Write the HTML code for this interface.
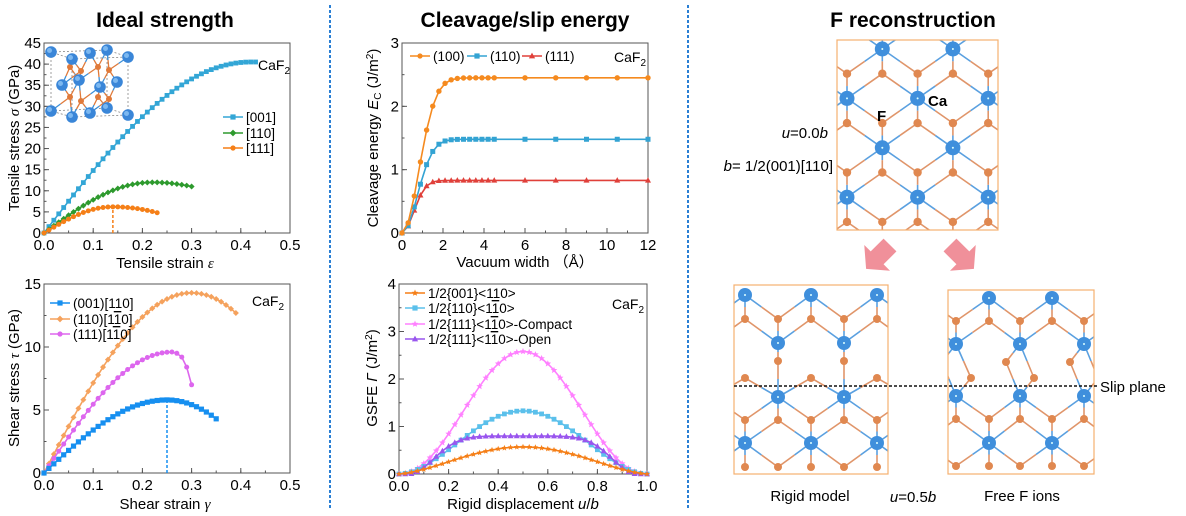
<!DOCTYPE html>
<html><head><meta charset="utf-8"><style>
html,body{margin:0;padding:0;background:#fff;}
svg{display:block;font-family:"Liberation Sans",Arial,sans-serif;}
</style></head><body>
<svg id="s" width="1186" height="516" viewBox="0 0 1186 516" xmlns="http://www.w3.org/2000/svg">
<rect width="1186" height="516" fill="#fff"/>
<line x1="330" y1="5" x2="330" y2="510" stroke="#2a7fd4" stroke-width="2" stroke-dasharray="3,2"/>
<line x1="688" y1="5" x2="688" y2="510" stroke="#2a7fd4" stroke-width="2" stroke-dasharray="3,2"/>
<text x="165" y="27" font-size="21" font-weight="bold" text-anchor="middle">Ideal strength</text>
<text x="525" y="27" font-size="21" font-weight="bold" text-anchor="middle">Cleavage/slip energy</text>
<text x="913" y="27" font-size="21" font-weight="bold" text-anchor="middle">F reconstruction</text>
<g id="g"></g>
</svg>
<script>
var G=document.getElementById('g'),H='';
function t(x,y,s,o){o=o||{};H+='<text x="'+x+'" y="'+y+'" font-size="'+(o.fs||14)+'"'+(o.a?' text-anchor="'+o.a+'"':'')+(o.tr?' transform="'+o.tr+'"':'')+(o.b?' font-weight="bold"':'')+'>'+s+'</text>';}
function mk(tp,x,y,c,r){r=r||2.6;
 if(tp=='s')H+='<rect x="'+(x-r)+'" y="'+(y-r)+'" width="'+2*r+'" height="'+2*r+'" fill="'+c+'"/>';
 else if(tp=='c')H+='<circle cx="'+x+'" cy="'+y+'" r="'+r+'" fill="'+c+'"/>';
 else if(tp=='d')H+='<polygon points="'+x+','+(y-r*1.3)+' '+(x+r*1.3)+','+y+' '+x+','+(y+r*1.3)+' '+(x-r*1.3)+','+y+'" fill="'+c+'"/>';
 else if(tp=='t')H+='<polygon points="'+x+','+(y-r*1.3)+' '+(x+r*1.2)+','+(y+r*0.9)+' '+(x-r*1.2)+','+(y+r*0.9)+'" fill="'+c+'"/>';
 else if(tp=='st'){var p=[];for(var i=0;i<10;i++){var a=-Math.PI/2+i*Math.PI/5,rr=i%2?r*0.6:r*1.35;p.push((x+rr*Math.cos(a)).toFixed(1)+','+(y+rr*Math.sin(a)).toFixed(1));}H+='<polygon points="'+p.join(' ')+'" fill="'+c+'"/>';}
}
function Ax(o){
 o.X=function(v){return o.x0+(v-o.xmin)/(o.xmax-o.xmin)*(o.x1-o.x0)};
 o.Y=function(v){return o.yb-(v-o.ymin)/(o.ymax-o.ymin)*(o.yb-o.yt)};
 H+='<rect x="'+o.x0+'" y="'+o.yt+'" width="'+(o.x1-o.x0)+'" height="'+(o.yb-o.yt)+'" fill="none" stroke="#555" stroke-width="1"/>';
 for(var v=o.xmin;v<=o.xmax+1e-9;v+=o.xm){var x=o.X(v);H+='<line x1="'+x+'" y1="'+o.yb+'" x2="'+x+'" y2="'+(o.yb-2.5)+'" stroke="#555"/>';}
 for(var v=o.ymin;v<=o.ymax+1e-9;v+=o.ym){var y=o.Y(v);H+='<line x1="'+o.x0+'" y1="'+y+'" x2="'+(o.x0+2.5)+'" y2="'+y+'" stroke="#555"/>';}
 o.xt.forEach(function(v){var x=o.X(v);H+='<line x1="'+x+'" y1="'+o.yb+'" x2="'+x+'" y2="'+(o.yb-5)+'" stroke="#555"/>';t(x,o.yb+17,o.xf?o.xf(v):v,{a:'middle',fs:15});});
 o.yt2.forEach(function(v){var y=o.Y(v);H+='<line x1="'+o.x0+'" y1="'+y+'" x2="'+(o.x0+5)+'" y2="'+y+'" stroke="#555"/>';t(o.x0-3,y+5,v,{a:'end',fs:15});});
 return o;}
function ser(o,pts,c,tp,r){H+='<polyline fill="none" stroke="'+c+'" stroke-width="1.6" points="'+pts.map(function(p){return o.X(p[0]).toFixed(1)+','+o.Y(p[1]).toFixed(1)}).join(' ')+'"/>';pts.forEach(function(p){mk(tp,o.X(p[0]),o.Y(p[1]),c,r)});}
function leg(x,y,c,tp,s){H+='<line x1="'+x+'" y1="'+(y-5)+'" x2="'+(x+20)+'" y2="'+(y-5)+'" stroke="'+c+'" stroke-width="1.6"/>';mk(tp,x+10,y-5,c);t(x+23,y,s,{fs:13.5});}
function rng(a,b,s){var r=[];for(var v=a;v<=b+1e-9;v+=s)r.push(+v.toFixed(4));return r;}
var S=Math.sin,P=Math.PI;
// Panel 1
var a1=Ax({x0:44,x1:290,yt:43,yb:233,xmin:0,xmax:0.5,ymin:0,ymax:45,xm:0.05,ym:2.5,xt:[0,0.1,0.2,0.3,0.4,0.5],yt2:[0,5,10,15,20,25,30,35,40,45],xf:function(v){return v.toFixed(1)}});
H+='<line x1="'+a1.X(0.14)+'" y1="233" x2="'+a1.X(0.14)+'" y2="'+a1.Y(6.1)+'" stroke="#f57f17" stroke-width="1.5" stroke-dasharray="3,2"/>';
ser(a1,rng(0,0.43,0.01).map(function(e){return[e,40.5*S(P/2*Math.min(e/0.42,1))]}),'#33a6d6','s',2.4);
ser(a1,rng(0,0.30,0.01).map(function(e){return[e,e<=0.22?12*S(P/2*e/0.22):12-156*(e-0.22)*(e-0.22)]}),'#2e9a2e','d',2.3);
ser(a1,rng(0,0.23,0.01).map(function(e){return[e,e<=0.14?6.2*S(P/2*e/0.14):6.2-173*(e-0.14)*(e-0.14)]}),'#f57f17','c',2.5);
leg(223,122,'#33a6d6','s','[001]');leg(223,138,'#2e9a2e','d','[110]');leg(223,153,'#f57f17','c','[111]');
t(258,70,'CaF<tspan font-size="10" dy="4">2</tspan>',{fs:14});
t(165,268,'Tensile strain <tspan font-style="italic" font-family="Liberation Serif">ε</tspan>',{a:'middle',fs:15});
t(19,138,'Tensile stress <tspan font-style="italic" font-family="Liberation Serif">σ</tspan> (GPa)',{a:'middle',fs:15,tr:'rotate(-90 19 138)'});
// inset crystal
(function(){var ca=[[51,52],[72,59],[90,53],[107,50],[128,57],[62,85],[79,80],[100,87],[117,82],[51,111],[72,117],[90,113],[107,108],[128,115]],f=[[70,67],[81,71],[98,67],[109,70],[70,97],[81,101],[98,97],[109,99]];
H+='<polygon points="51,52 107,50 128,57 72,59" fill="none" stroke="#888" stroke-dasharray="2,2" stroke-width="0.8"/><polygon points="51,111 107,108 128,115 72,117" fill="none" stroke="#888" stroke-dasharray="2,2" stroke-width="0.8"/>';
[[51,52,51,111],[72,59,72,117],[107,50,107,108],[128,57,128,115]].forEach(function(l){H+='<line x1="'+l[0]+'" y1="'+l[1]+'" x2="'+l[2]+'" y2="'+l[3]+'" stroke="#888" stroke-dasharray="2,2" stroke-width="0.8"/>';});
f.forEach(function(q){ca.forEach(function(c){var d=Math.hypot(q[0]-c[0],q[1]-c[1]);if(d<24){var mx=(q[0]+c[0])/2,my=(q[1]+c[1])/2;H+='<line x1="'+c[0]+'" y1="'+c[1]+'" x2="'+mx+'" y2="'+my+'" stroke="#3b8fd8" stroke-width="1.3"/><line x1="'+mx+'" y1="'+my+'" x2="'+q[0]+'" y2="'+q[1]+'" stroke="#e07a3a" stroke-width="1.3"/>';}});});
f.forEach(function(q){H+='<circle cx="'+q[0]+'" cy="'+q[1]+'" r="3" fill="#e07a3a"/>';});
ca.forEach(function(c){H+='<circle cx="'+c[0]+'" cy="'+c[1]+'" r="5.8" fill="#3a86d8"/><circle cx="'+(c[0]-1.5)+'" cy="'+(c[1]-1.5)+'" r="2.5" fill="#7cb8f0"/>';});})();
// Panel 2
var a2=Ax({x0:44,x1:290,yt:284,yb:473,xmin:0,xmax:0.5,ymin:0,ymax:15,xm:0.05,ym:2.5,xt:[0,0.1,0.2,0.3,0.4,0.5],yt2:[0,5,10,15],xf:function(v){return v.toFixed(1)}});
H+='<line x1="'+a2.X(0.25)+'" y1="473" x2="'+a2.X(0.25)+'" y2="'+a2.Y(5.8)+'" stroke="#168ff0" stroke-width="1.5" stroke-dasharray="3,2"/>';
ser(a2,rng(0,0.39,0.01).map(function(g){return[g,g<=0.3?14.3*S(P/2*g/0.3):14.3-1.6*Math.pow((g-0.3)/0.09,2)]}),'#f5a25d','d',2.3);
var mg=rng(0,0.26,0.01).map(function(g){return[g,9.6*S(P/2*g/0.26)]});mg.push([0.27,9.5],[0.28,9.2],[0.29,8.4],[0.30,7.0]);
ser(a2,mg,'#dd66ee','c',2.5);
ser(a2,rng(0,0.35,0.01).map(function(g){return[g,g<=0.25?5.8*S(P/2*g/0.25):5.8-1.5*Math.pow((g-0.25)/0.1,2)]}),'#168ff0','s',2.6);
leg(50,308,'#168ff0','s','(001)[110]');leg(50,324,'#f5a25d','d','(110)[1<tspan text-decoration="overline">1</tspan>0]');leg(50,339,'#dd66ee','c','(111)[1<tspan text-decoration="overline">1</tspan>0]');
t(252,306,'CaF<tspan font-size="10" dy="4">2</tspan>',{fs:14});
t(165,509,'Shear strain <tspan font-style="italic" font-family="Liberation Serif">γ</tspan>',{a:'middle',fs:15});
t(19,378,'Shear stress <tspan font-style="italic" font-family="Liberation Serif">τ</tspan> (GPa)',{a:'middle',fs:15,tr:'rotate(-90 19 378)'});
// Panel 3
var a3=Ax({x0:402,x1:648,yt:43,yb:233,xmin:0,xmax:12,ymin:0,ymax:3,xm:1,ym:0.5,xt:[0,2,4,6,8,10,12],yt2:[0,1,2,3]});
var vx=rng(0,4.5,0.3).concat([6,7.5,9,10.5,12]);
function cl(A,w){return vx.map(function(x){return[x,A*(1-Math.exp(-Math.pow(x/w,2)))]})}
ser(a3,cl(0.83,0.8),'#e0403a','t',2.5);
ser(a3,cl(1.48,1.05),'#33a3d3','s',2.5);
ser(a3,cl(2.45,1.15),'#f58a1f','c',2.7);
leg(410,61,'#f58a1f','c','(100)');leg(467,61,'#33a3d3','s','(110)');leg(522,61,'#e0403a','t','(111)');
t(614,62,'CaF<tspan font-size="10" dy="4">2</tspan>',{fs:14});
t(525,267,'Vacuum width （Å）',{a:'middle',fs:15});
t(378,138,'Cleavage energy <tspan font-style="italic">E</tspan><tspan font-size="10" dy="3">C</tspan><tspan dy="-3"> (J/m</tspan><tspan font-size="10" dy="-5">2</tspan><tspan dy="5">)</tspan>',{a:'middle',fs:15,tr:'rotate(-90 378 138)'});
// Panel 4
var a4=Ax({x0:399,x1:647,yt:284,yb:474,xmin:0,xmax:1,ymin:0,ymax:4,xm:0.1,ym:0.5,xt:[0,0.2,0.4,0.6,0.8,1.0],yt2:[0,1,2,3,4],xf:function(v){return v.toFixed(1)}});
var ux=rng(0,1,0.025);
ser(a4,ux.map(function(u){return[u,2.58*Math.pow(S(P*u),2.1)]}),'#ff80ff','st',2.6);
ser(a4,ux.map(function(u){return[u,1.33*Math.pow(S(P*u),1.8)]}),'#5bc0eb','s',2.4);
ser(a4,ux.map(function(u){var d=Math.max(0,Math.min(u,1-u)-0.04);return[u,0.8*(1-Math.exp(-Math.pow(d/0.14,2)))]}),'#9955ee','t',2.5);
ser(a4,ux.map(function(u){return[u,0.57*Math.pow(S(P*u),1.5)]}),'#f57f17','st',2.3);
leg(405,298,'#f57f17','st','1/2{001}&lt;110&gt;');leg(405,313,'#5bc0eb','s','1/2{110}&lt;1<tspan text-decoration="overline">1</tspan>0&gt;');leg(405,329,'#ff80ff','st','1/2{111}&lt;1<tspan text-decoration="overline">1</tspan>0&gt;-Compact');leg(405,344,'#9955ee','t','1/2{111}&lt;1<tspan text-decoration="overline">1</tspan>0&gt;-Open');
t(612,309,'CaF<tspan font-size="10" dy="4">2</tspan>',{fs:14});
t(523,509,'Rigid displacement <tspan font-style="italic">u</tspan>/<tspan font-style="italic">b</tspan>',{a:'middle',fs:15});
t(377,378,'GSFE <tspan font-style="italic">Γ</tspan> (J/m<tspan font-size="10" dy="-5">2</tspan><tspan dy="5">)</tspan>',{a:'middle',fs:15,tr:'rotate(-90 377 378)'});
// Structures
var cid=0;
function struct(bx,by,bw,bh,ca,f,th,R,r){cid++;H+='<clipPath id="c'+cid+'"><rect x="'+bx+'" y="'+by+'" width="'+bw+'" height="'+bh+'"/></clipPath><g clip-path="url(#c'+cid+')">';
 f.forEach(function(q){ca.forEach(function(c){var d=Math.hypot(q[0]-c[0],q[1]-c[1]);if(d<th){var mx=(q[0]+c[0])/2,my=(q[1]+c[1])/2;H+='<line x1="'+c[0]+'" y1="'+c[1]+'" x2="'+mx+'" y2="'+my+'" stroke="#5aa0e0" stroke-width="1.6"/><line x1="'+mx+'" y1="'+my+'" x2="'+q[0]+'" y2="'+q[1]+'" stroke="#e0956a" stroke-width="1.6"/>';}});});
 f.forEach(function(q){H+='<circle cx="'+q[0]+'" cy="'+q[1]+'" r="'+r+'" fill="#e08850"/>';});
 ca.forEach(function(c){H+='<circle cx="'+c[0]+'" cy="'+c[1]+'" r="'+R+'" fill="#3f8fdc"/><circle cx="'+c[0]+'" cy="'+c[1]+'" r="1" fill="#dff"/>';});
 H+='</g><rect x="'+bx+'" y="'+by+'" width="'+bw+'" height="'+bh+'" fill="none" stroke="#f5b070" stroke-width="1.2"/>';}
(function(){var ca=[],f=[];for(var k=-1;k<=5;k++)for(var rr=-1;rr<=4;rr++){var x=847+k*35.3,y=49+rr*49.4;if(((k+rr)%2+2)%2==1)ca.push([x,y]);f.push([x,y+24.7]);}
 struct(837,40,161,190,ca,f,45,7.5,4.2);})();
(function(){var cx=[712,745,778,811,844,877,910],ca=[],f=[];
 cx.forEach(function(x,i){if(i%2==1){ca.push([x,295]);ca.push([x,443]);}else{ca.push([x,343]);ca.push([x,397]);ca.push([x,249]);}
  f.push([x,319],[x,420],[x,467]);if(i%2==0)f.push([x,361]);else f.push([x,378]);});
 struct(734,285,154,189,ca,f,42,7,4);})();
(function(){var cx=[924,956,989,1020,1052,1084,1116],ca=[],f=[];
 cx.forEach(function(x,i){if(i%2==0){ca.push([x,298]);ca.push([x,443]);}else{ca.push([x,344]);ca.push([x,396]);}
  f.push([x,321],[x,419],[x,466]);});
 f.push([942,362],[1006,362],[1070,362],[971,378],[1034,378],[1098,378]);
 struct(948,290,146,184,ca,f,42,7,4);})();
H+='<line x1="734" y1="386" x2="1097" y2="386" stroke="#111" stroke-width="1.5" stroke-dasharray="3,2"/>';
t(1100,392,'Slip plane',{fs:15});
t(928,106,'Ca',{fs:15,b:1});t(877,121,'F',{fs:15,b:1});
t(828,138,'<tspan font-style="italic">u</tspan>=0.0<tspan font-style="italic">b</tspan>',{fs:15,a:'end'});
t(833,171,'<tspan font-style="italic">b</tspan>= 1/2(001)[110]',{fs:15,a:'end'});
t(810,501,'Rigid model',{fs:15,a:'middle'});
t(913,502,'<tspan font-style="italic">u</tspan>=0.5<tspan font-style="italic">b</tspan>',{fs:15,a:'middle'});
t(1022,501,'Free F ions',{fs:15,a:'middle'});
H+='<polygon points="0,-7 14,-7 14,-14 26,0 14,14 14,7 0,7" fill="#f0909a" transform="translate(890,245) rotate(135) scale(1.3)"/>';
H+='<polygon points="0,-7 14,-7 14,-14 26,0 14,14 14,7 0,7" fill="#f0909a" transform="translate(950,245) rotate(45) scale(1.3)"/>';
G.innerHTML=H;
</script>
</body></html>
